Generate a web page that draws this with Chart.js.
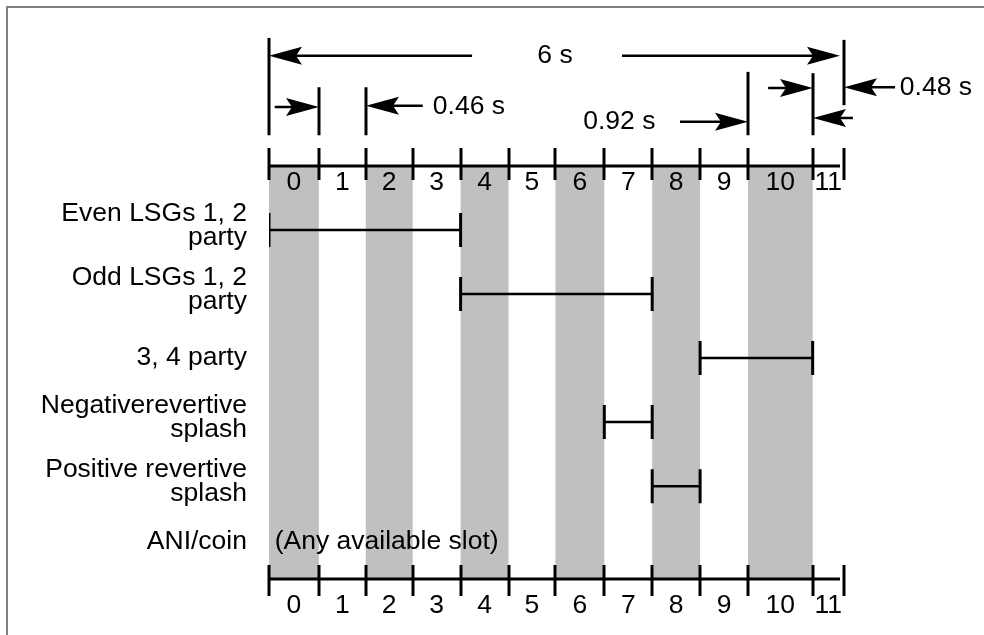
<!DOCTYPE html>
<html lang="en">
<head>
  <meta charset="UTF-8">
  <title>Slot timing</title>
  <script src="https://cdn.jsdelivr.net/npm/chart.js"></script>
  <style>
    html, body { margin: 0; padding: 0; background: #fff; }
    #wrap { position: relative; width: 984px; height: 635px; overflow: hidden; }
    #frame { position: absolute; left: 6px; top: 6px; width: 1000px; height: 700px;
             border-top: 2px solid #808080; border-left: 2px solid #808080; }
  </style>
</head>
<body>
  <div id="wrap">
    <canvas id="timing" width="984" height="635"></canvas>
    <div id="frame"></div>
  </div>

  <script>
    // slot boundaries along the time axis (slot widths as drawn)
    const slotEdges = [0, 1.04, 2.02, 3, 4, 5, 5.98, 7, 8, 9, 10, 11.35, 12];
    const slotLabels = ['0', '1', '2', '3', '4', '5', '6', '7', '8', '9', '10', '11'];
    const shadedSlots = [0, 2, 4, 6, 8, 10];
    const axisEnd = 11.92;

    // rows
    const rowLabels = [
      ['Even LSGs 1, 2', 'party'],
      ['Odd LSGs 1, 2', 'party'],
      ['3, 4 party'],
      ['Negativerevertive', 'splash'],
      ['Positive revertive', 'splash'],
      ['ANI/coin']
    ];
    const rowLevels = [0, 1, 2, 3, 4, 4.86];
    const rowStart = [0, 4, 9, 7, 8];
    const rowEnd = [4, 8, 11.35, 8, 9];
    const aniNote = '(Any available slot)';

    // dimension annotations above the top axis
    const witnessX = [0, 1.04, 2.02, 10, 11.35, 12];
    const witnessTop = [-3.0, -2.23, -2.23, -2.47, -2.45, -2.97];
    const witnessBottom = [-1.48, -1.48, -1.48, -1.48, -1.48, -1.95];
    const arrowFrom = [4.24, 7.37, 0.12, 3.21, 8.58, 10.42, 12.19, 13.07];
    const arrowTo = [0, 11.93, 1.04, 2.02, 10, 11.35, 11.35, 12];
    const arrowLevel = [-2.72, -2.72, -1.92, -1.94, -1.69, -2.22, -1.75, -2.23];
    const dimText = ['6 s', '0.46 s', '0.92 s', '0.48 s'];
    const dimTextX = [5.97, 3.42, 6.56, 13.17];
    const dimTextAlign = ['center', 'left', 'left', 'left'];
    const dimTextLevel = [-2.72, -1.92, -1.69, -2.23];

    const topAxisLevel = -1;
    const bottomAxisLevel = 5.45;
    const FONT = '26.5px "Liberation Sans", Arial, sans-serif';

    function arrowHead(ctx, tipX, y, dir) {
      // dir = +1 points right, -1 points left
      const len = 33, half = 9, notch = 6;
      ctx.beginPath();
      ctx.moveTo(tipX, y);
      ctx.lineTo(tipX - dir * len, y - half);
      ctx.lineTo(tipX - dir * (len - notch), y);
      ctx.lineTo(tipX - dir * len, y + half);
      ctx.closePath();
      ctx.fill();
    }

    const diagramPlugin = {
      id: 'diagram',
      beforeDatasetsDraw(chart) {
        const ctx = chart.ctx, xs = chart.scales.x, ys = chart.scales.y;
        const yTop = ys.getPixelForValue(topAxisLevel);
        const yBot = ys.getPixelForValue(bottomAxisLevel);
        ctx.save();
        ctx.fillStyle = '#c0c0c0';
        shadedSlots.forEach(i => {
          const x0 = xs.getPixelForValue(slotEdges[i]);
          const x1 = xs.getPixelForValue(slotEdges[i + 1]);
          ctx.fillRect(x0, yTop, x1 - x0, yBot - yTop);
        });

        // the two time axes
        ctx.strokeStyle = '#000';
        ctx.fillStyle = '#000';
        ctx.font = FONT;
        ctx.textAlign = 'center';
        ctx.textBaseline = 'middle';
        [[yTop, 18, 14, 17], [yBot, 14, 17, 27]].forEach(([y, up, down, lab]) => {
          ctx.lineWidth = 3;
          ctx.beginPath();
          ctx.moveTo(xs.getPixelForValue(slotEdges[0]), y);
          ctx.lineTo(xs.getPixelForValue(axisEnd), y);
          ctx.stroke();
          slotEdges.forEach(v => {
            const x = Math.round(xs.getPixelForValue(v));
            ctx.beginPath();
            ctx.moveTo(x, y - up);
            ctx.lineTo(x, y + down);
            ctx.stroke();
          });
          slotLabels.forEach((t, i) => {
            const xc = (xs.getPixelForValue(slotEdges[i]) + xs.getPixelForValue(slotEdges[i + 1])) / 2;
            ctx.fillText(t, xc, y + lab);
          });
        });

        // row labels
        ctx.textAlign = 'right';
        const labX = xs.getPixelForValue(-0.46);
        rowLabels.forEach((lines, i) => {
          const y = ys.getPixelForValue(rowLevels[i]);
          if (lines.length === 2) {
            ctx.fillText(lines[0], labX, y - 16);
            ctx.fillText(lines[1], labX, y + 8);
          } else {
            ctx.fillText(lines[0], labX, y);
          }
        });
        ctx.textAlign = 'left';
        ctx.fillText(aniNote, xs.getPixelForValue(0.12), ys.getPixelForValue(rowLevels[5]));

        // dimension lines
        ctx.lineWidth = 3;
        witnessX.forEach((v, i) => {
          const x = Math.round(xs.getPixelForValue(v));
          ctx.beginPath();
          ctx.moveTo(x, ys.getPixelForValue(witnessTop[i]));
          ctx.lineTo(x, ys.getPixelForValue(witnessBottom[i]));
          ctx.stroke();
        });
        ctx.lineWidth = 2.5;
        arrowFrom.forEach((v, i) => {
          const x0 = xs.getPixelForValue(v);
          const x1 = Math.round(xs.getPixelForValue(arrowTo[i]));
          const y = ys.getPixelForValue(arrowLevel[i]);
          const dir = x1 > x0 ? 1 : -1;
          ctx.beginPath();
          ctx.moveTo(x0, y);
          ctx.lineTo(x1 - dir * 12, y);
          ctx.stroke();
          arrowHead(ctx, x1, y, dir);
        });
        dimText.forEach((t, i) => {
          ctx.textAlign = dimTextAlign[i];
          ctx.fillText(t, xs.getPixelForValue(dimTextX[i]), ys.getPixelForValue(dimTextLevel[i]));
        });
        ctx.restore();
      }
    };

    const datasets = rowStart.map((s, i) => ({
      label: rowLabels[i].join(' '),
      data: [{ x: s, y: rowLevels[i] }, { x: rowEnd[i], y: rowLevels[i] }],
      borderColor: '#000',
      borderWidth: 2.5,
      pointStyle: 'line',
      pointRadius: 17,
      pointRotation: 90,
      pointBorderWidth: 3,
      pointBorderColor: '#000',
      pointBackgroundColor: '#000',
      showLine: true,
      fill: false
    }));

    new Chart(document.getElementById('timing').getContext('2d'), {
      type: 'scatter',
      data: { datasets: datasets },
      options: {
        responsive: false,
        animation: false,
        layout: { padding: { left: 269, right: 984 - 269 - 14 * 47.9, top: 166, bottom: 56 } },
        scales: {
          x: { type: 'linear', min: 0, max: 14, display: false },
          y: { type: 'linear', min: -1, max: 5.45, reverse: true, display: false }
        },
        plugins: { legend: { display: false }, tooltip: { enabled: false } }
      },
      plugins: [diagramPlugin]
    });
  </script>
</body>
</html>
